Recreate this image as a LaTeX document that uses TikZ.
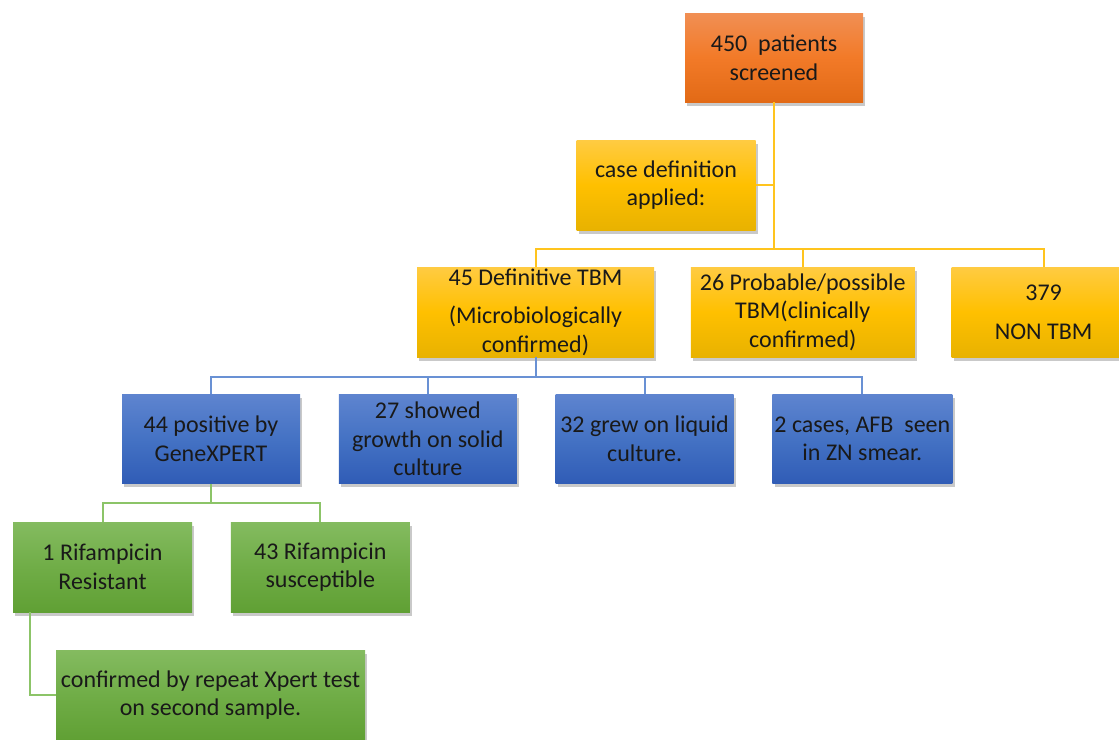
\documentclass[tikz,border=0pt]{standalone}
\usepackage{fontspec}
\setmainfont{Carlito}
\usepackage{xcolor}
\usepackage{tikz}
\usetikzlibrary{calc, positioning, shadows}

\definecolor{orTop}{RGB}{241,143,84}
\definecolor{orMid}{RGB}{242,122,40}
\definecolor{orBot}{RGB}{226,106,22}
\definecolor{yeTop}{RGB}{255,203,66}
\definecolor{yeMid}{RGB}{255,192,0}
\definecolor{yeBot}{RGB}{232,178,0}
\definecolor{blTop}{RGB}{94,132,207}
\definecolor{blMid}{RGB}{68,114,196}
\definecolor{blBot}{RGB}{48,92,182}
\definecolor{grTop}{RGB}{132,187,96}
\definecolor{grMid}{RGB}{112,173,71}
\definecolor{grBot}{RGB}{96,160,52}
\definecolor{yeLine}{RGB}{255,196,30}
\definecolor{blLine}{RGB}{105,145,212}
\definecolor{grLine}{RGB}{140,196,104}

\tikzset{
    box/.style={
        rectangle, draw=none, align=center,
        minimum width=89pt, minimum height=44.5pt,
        inner xsep=1pt, inner ysep=0pt,
        text=black!90,
        font=\fontsize{12}{14.3}\selectfont,
        drop shadow={shadow xshift=1.2pt, shadow yshift=-1.8pt, opacity=0.3, fill=black!70}
    },
    obox/.style={box, top color=orTop, bottom color=orBot, middle color=orMid},
    ybox/.style={box, top color=yeTop, bottom color=yeBot, middle color=yeMid},
    bbox/.style={box, top color=blTop, bottom color=blBot, middle color=blMid},
    gbox/.style={box, top color=grTop, bottom color=grBot, middle color=grMid}
}

\begin{document}
\begin{tikzpicture}[
        x=0.5pt, y=0.5pt,
        node distance=19pt,
        % Connectors
        yline/.style={draw=yeLine, line width=1pt},
        bline/.style={draw=blLine, line width=1pt},
        gline/.style={draw=grLine, line width=1pt}
    ]

    \useasboundingbox (0,0) rectangle (1119,-739);
    \clip (0,0) rectangle (1119,-739);

    % Screening
    \node[obox] (screen) at (774,-57.5) {450\ \ patients\\screened};
    \node[ybox, minimum width=89.5pt, minimum height=45pt] (casedef) at (666,-185) {case definition\\applied:};

    % Case definition groups
    \node[ybox, minimum width=118.5pt, minimum height=45pt] (def) at (535.5,-312) {45 Definitive TBM\\[5pt](Microbiologically\\confirmed)};
    \node[ybox, minimum width=112pt, minimum height=45pt, right=18pt of def] (prob) {26 Probable/possible\\TBM(clinically\\confirmed)};
    \node[ybox, minimum width=92pt, minimum height=45pt, right=18pt of prob] (non) {379\\[5pt]NON TBM};

    \coordinate (ybus) at ($(screen.south)+(0,-147)$);
    \draw[yline] (screen.south) |- (casedef.east);
    \draw[yline] (screen.south) -- (ybus) -| (def);
    \draw[yline] (ybus) -| (prob);
    \draw[yline] (ybus) -| (non);

    % Microbiological tests
    \node[bbox] (genex) at (211,-439) {44 positive by\\GeneXPERT};
    \node[bbox, right=19pt of genex] (solid) {27 showed\\growth on solid\\culture};
    \node[bbox, right=19pt of solid] (liquid) {32 grew on liquid\\culture.};
    \node[bbox, right=19pt of liquid] (smear) {2 cases, AFB\ \ seen\\in ZN smear.};

    \coordinate (bbus) at ($(def.south)+(0,-20)$);
    \draw[bline] (def.south) -- (bbus) -| (genex);
    \draw[bline] (bbus) -| (solid);
    \draw[bline] (bbus) -| (liquid);
    \draw[bline] (bbus) -| (smear);

    % Rifampicin result
    \node[gbox, minimum width=89.5pt, minimum height=45pt] (rres) at (102.5,-567) {1 Rifampicin\\Resistant};
    \node[gbox, minimum width=89.5pt, minimum height=45pt, right=19pt of rres] (rsus) {43 Rifampicin\\susceptible};

    \coordinate (gbus) at ($(genex.south)+(0,-19)$);
    \draw[gline] (genex.south) -- (gbus) -| (rres);
    \draw[gline] (gbus) -| (rsus);

    % Repeat test
    \node[gbox, minimum width=154.5pt, minimum height=45pt] (confirm) at (210.5,-695) {confirmed by repeat Xpert test\\on second sample.};
    \draw[gline] ([xshift=8.5pt]rres.south west) |- (confirm.west);

\end{tikzpicture}
\end{document}
